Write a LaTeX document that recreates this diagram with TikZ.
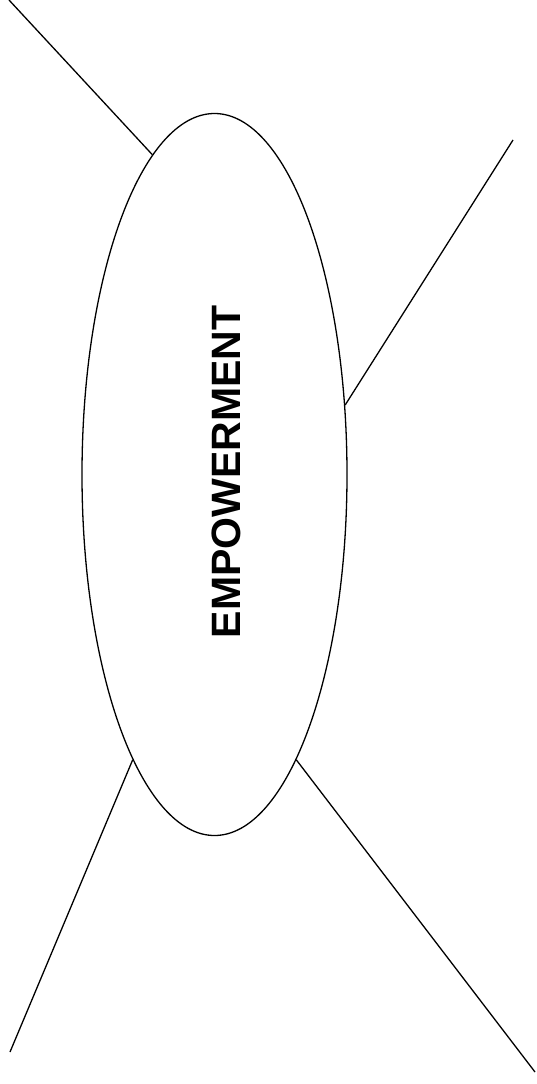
\documentclass[tikz,border=0pt]{standalone}
\usepackage{fontspec}
\setmainfont{Liberation Sans}
\usetikzlibrary{shapes.geometric}
\begin{document}
\begin{tikzpicture}[x=1pt,y=-1pt,
  line/.style={draw=black,line width=1.3pt},
  bubble/.style={ellipse,draw=black,line width=1.3pt,minimum width=265pt,minimum height=722pt,inner sep=0pt},
  label/.style={rotate=90,font=\fontsize{41}{41}\selectfont\bfseries,inner sep=0pt}]
\useasboundingbox (0,0) rectangle (536,1084);
\node[bubble] (E) at (214.5,474.5) {};
\node[label] (T) at (226,472) {EMPOWERMENT};
\coordinate (tl) at (9,0);
\coordinate (tr) at (513,140);
\coordinate (bl) at (10,1052);
\coordinate (br) at (535,1072);
\draw[line] (E.101.7) -- (tl);
\draw[line] (E.28.5) -- (tr);
\draw[line] (E.254.4) -- (bl);
\draw[line] (E.286.1) -- (br);
\end{tikzpicture}
\end{document}
